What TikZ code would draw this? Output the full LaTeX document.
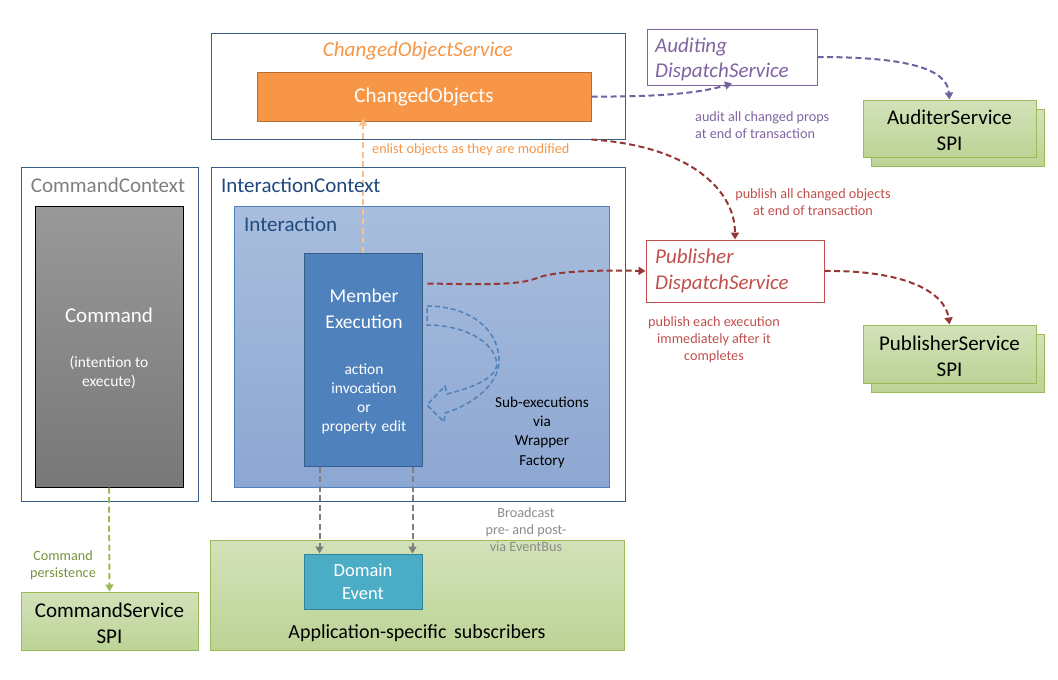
\documentclass[tikz,border=0pt]{standalone}
\usepackage{fontspec}
\setmainfont{Carlito}
\usetikzlibrary{arrows.meta}
\definecolor{frame}{HTML}{385D8A}
\definecolor{orng}{HTML}{F79646}
\definecolor{orngD}{HTML}{B66D31}
\definecolor{orngL}{HTML}{FAC090}
\definecolor{purp}{HTML}{8064A2}
\definecolor{purpA}{HTML}{7360A0}
\definecolor{redT}{HTML}{C0504D}
\definecolor{redA}{HTML}{953735}
\definecolor{grnB}{HTML}{9BBB59}
\definecolor{grnT}{HTML}{D3E2B9}
\definecolor{grnBot}{HTML}{BCD396}
\definecolor{grnTxt}{HTML}{77933C}
\definecolor{navy}{HTML}{1F497D}
\definecolor{blu}{HTML}{4F81BD}
\definecolor{bluD}{HTML}{385D8A}
\definecolor{bluTop}{HTML}{A9BEDD}
\definecolor{bluBot}{HTML}{8CA7D2}
\definecolor{teal}{HTML}{4BACC6}
\definecolor{tealD}{HTML}{31849B}
\definecolor{grayT}{HTML}{7F7F7F}
\begin{document}
\begin{tikzpicture}[x=1pt,y=-1pt,
  ctx/.style={draw=frame, line width=1pt, inner sep=0pt, fill=white},
  spi/.style={draw=grnB, line width=1pt, top color=grnT, bottom color=grnBot, inner sep=0pt, minimum width=173pt, minimum height=57pt},
  dline/.style={dash pattern=on 6pt off 3.5pt, line width=2pt},
  tip/.style={-{Triangle[length=7pt,width=8pt]}},
  big/.style={font=\fontsize{21}{26}\selectfont},
  med/.style={font=\fontsize{15.5}{19}\selectfont},
  sml/.style={font=\fontsize{14.2}{17}\selectfont},
  txt/.style={inner sep=0pt, align=center}
]
\useasboundingbox (0,0) rectangle (1058,680);

% ---------- boxes ----------
\node[ctx, minimum width=414pt, minimum height=106pt] (cos) at (418,86) {};
\node[draw=orngD, fill=orng, line width=1pt, inner sep=0pt, minimum width=334pt, minimum height=49pt] (co) at (424,96.5) {};
\node[draw=purp, line width=1pt, fill=white, inner sep=0pt, minimum width=170pt, minimum height=56pt] (aud) at (732,57) {};
\node[spi] (audB) at (957.5,137.5) {};
\node[spi] (audF) at (949.5,128.5) {};
\node[draw=redT, line width=1pt, fill=white, inner sep=0pt, minimum width=178pt, minimum height=62pt] (pub) at (735,271) {};
\node[spi, minimum height=58pt] (pubB) at (957.5,363) {};
\node[spi, minimum height=58pt] (pubF) at (949.5,354) {};

\node[ctx, minimum width=177pt, minimum height=334pt] (cc) at (109.5,334) {};
\node[draw=black, line width=1pt, top color=black!40, bottom color=black!53, inner sep=0pt, minimum width=148pt, minimum height=281pt] (cmd) at (109,346.5) {};
\node[spi, minimum width=177pt, minimum height=58pt] (cs) at (109.5,621) {};

\node[ctx, minimum width=414pt, minimum height=334pt] (ic) at (418,334) {};
\node[draw=blu, line width=1pt, top color=bluTop, bottom color=bluBot, inner sep=0pt, minimum width=375pt, minimum height=281pt] (inter) at (421.5,346.5) {};
\node[draw=bluD, fill=blu, line width=1pt, inner sep=0pt, minimum width=118pt, minimum height=213pt] (me) at (363,359.5) {};

\node[spi, minimum width=414pt, minimum height=110pt] (app) at (417,595) {};
\node[draw=tealD, fill=teal, line width=1pt, inner sep=0pt, minimum width=118pt, minimum height=55pt] (de) at (363,581.5) {};

% ---------- connectors ----------
\draw[dline, purpA, tip] (co.east) .. controls (660,97) and (700,93) .. ([yshift=2pt]aud.south);
\draw[dline, purpA, tip] (aud.east) .. controls (905,57) and (947,68) .. (audF.north);
\draw[dline, redA, tip] (co.east |- cos.south) .. controls (690,146) and (735,190) .. (pub.north);
\draw[dline, redA, tip] (pub.east) .. controls (905,270) and (945,292) .. (pubF.north);
\draw[dline, redA, tip] ([xshift=5pt,yshift=-31pt]me.north east) .. controls (505,285) and (522,284) .. (540,277) .. controls (558,271) and (600,270) .. (pub.west);
\draw[dline, orngL, tip] (me.north) -- ([yshift=3pt]me.north |- co.south);
\draw[dline, grnB, tip] (cmd.south) -- (cs.north);
\draw[dline, grayT, tip] ([xshift=16pt]me.south west) -- ([xshift=16pt]de.north west);
\draw[dline, grayT, tip] ([xshift=-10pt]me.south east) -- ([xshift=-10pt]de.north east);

% curved block arrow (sub-executions)
\draw[blu, line width=1.5pt, dash pattern=on 5pt off 3pt]
  (427,306) .. controls (470,306) and (500,330) .. (499,362)
  .. controls (498,385) and (472,405) .. (445,413) -- (444,422) -- (427,405) -- (445,386) -- (447,394)
  .. controls (470,388) and (495,380) .. (497,364)
  .. controls (494,340) and (462,325) .. (427,325) -- cycle;

% ---------- texts ----------
\node[txt, text=orng, font=\fontsize{21}{26}\selectfont\itshape] (cosT) at (418,51.5) {ChangedObjectService};
\node[txt, big, text=white] (coT) at (424,97) {ChangedObjects};
\node[txt, sml, text=orng, anchor=west] (enl) at (372,150) {enlist objects as they are modified};
\node[txt, text=purp, align=left, anchor=west, font=\fontsize{21}{25}\selectfont\itshape] (audT) at (655,59.5) {Auditing\\DispatchService};
\node[txt, big, text=black] (audFT) at (949.5,130) {AuditerService\\SPI};
\node[txt, sml, text=purp, align=left, anchor=west] (audL) at (695,125) {audit all changed props\\at end of transaction};
\node[txt, sml, text=redT] (pubL1) at (813,202.5) {publish all changed objects\\at end of transaction};
\node[txt, text=redT, align=left, anchor=west, font=\fontsize{21}{26}\selectfont\itshape] (pubT) at (655,271) {Publisher\\DispatchService};
\node[txt, sml, text=redT] (pubL2) at (714,340) {publish each execution\\immediately after it\\completes};
\node[txt, big, text=black] (pubFT) at (949.5,356) {PublisherService\\SPI};

\node[txt, big, text=grayT] (ccT) at (108,185) {CommandContext};
\node[txt, text=white, font=\fontsize{21}{26}\selectfont] (cmdT) at (109,315) {Command};
\node[txt, med, text=white] (cmdS) at (109,372.5) {(intention to\\execute)};
\node[txt, sml, text=grnTxt] (csL) at (63,565.5) {Command\\persistence};
\node[txt, big, text=black] (csT) at (109.5,623) {CommandService\\SPI};

\node[txt, big, text=navy, anchor=west] (icT) at (221,185) {InteractionContext};
\node[txt, big, text=navy, anchor=west] (interT) at (244,224) {Interaction};
\node[txt, text=white, font=\fontsize{19.5}{26}\selectfont] (meT) at (364,309) {Member\\Execution};
\node[txt, med, text=white] (meS) at (364,398.5) {action\\invocation\\or\\property\hspace{0.1em} edit};
\node[txt, text=black, font=\fontsize{15.2}{19.3}\selectfont] (subT) at (542,432) {Sub-executions\\via\\Wrapper\\Factory};
\node[txt, sml, text=grayT!90] (bcL) at (526,530) {Broadcast\\pre- and post-\\via EventBus};
\node[txt, text=white, font=\fontsize{18.5}{23}\selectfont] (deT) at (363,581.5) {Domain\\Event};
\node[txt, text=black, font=\fontsize{20}{24}\selectfont] (appT) at (417,633) {Application-specific\hspace{0.15em} subscribers};
\end{tikzpicture}
\end{document}
